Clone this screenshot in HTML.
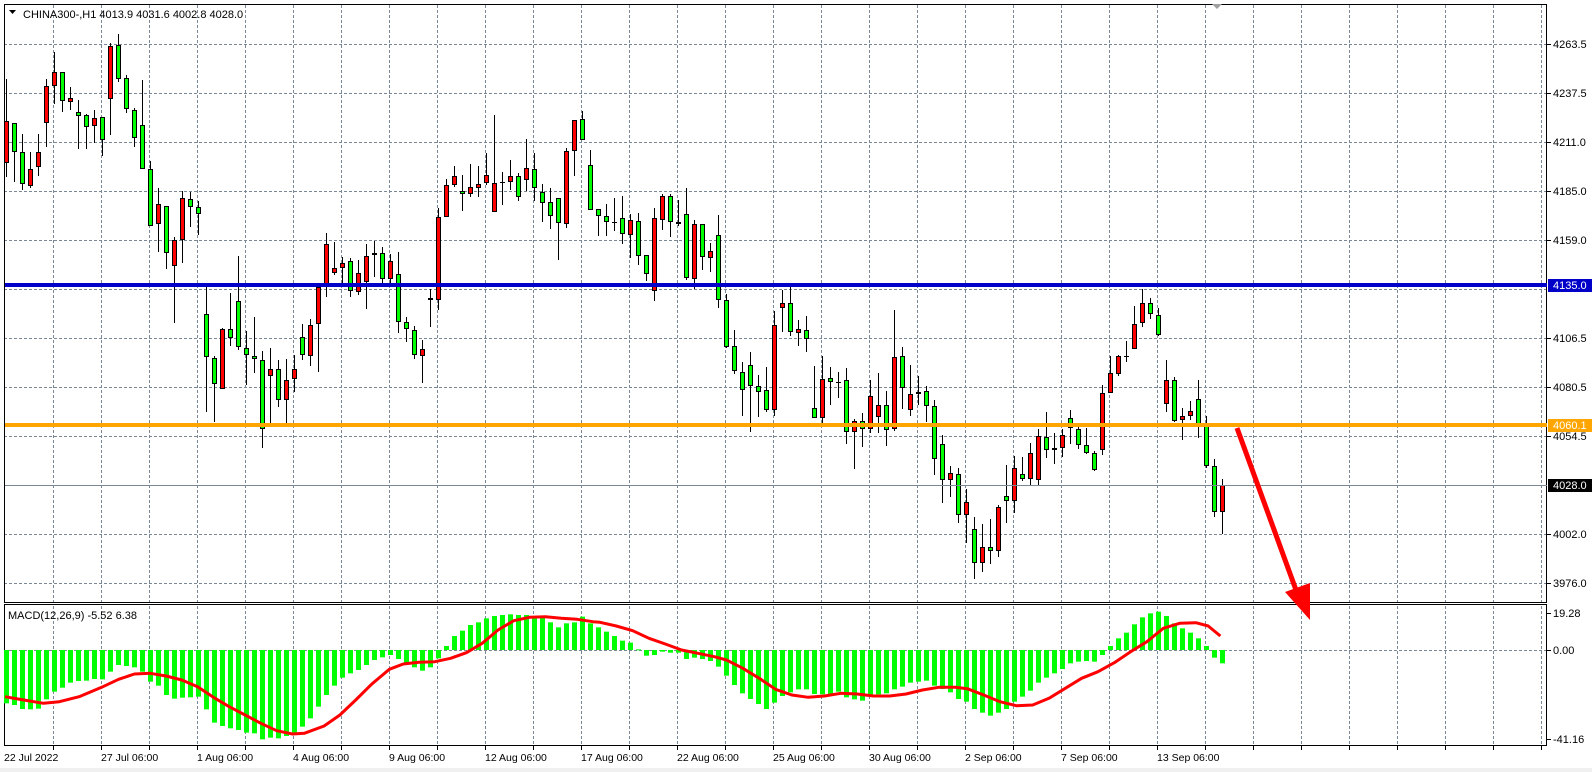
<!DOCTYPE html>
<html><head><meta charset="utf-8">
<style>
html,body{margin:0;padding:0;background:#fff;}
body{width:1592px;height:772px;overflow:hidden;position:relative;font-family:"Liberation Sans",sans-serif;}
svg{position:absolute;left:0;top:0;}
text{font-family:"Liberation Sans",sans-serif;font-size:11px;fill:#000;}
</style></head>
<body>
<svg id="s" width="1592" height="772" viewBox="0 0 1592 772" xmlns="http://www.w3.org/2000/svg">
<rect x="0" y="768" width="1592" height="4" fill="#f0f0f0"/>
<g id="grid"></g>
<g id="macd"></g>
<g id="candles"></g>
<g id="lines"></g>
<g id="axis"></g>
<text x="23" y="18">CHINA300-,H1  4013.9 4031.6 4002.8 4028.0</text>
<polygon points="9,10 16,10 12.5,14" fill="#000"/>
<polygon points="1212,4 1222,4 1217,9" fill="#a0a0a0"/>
<text x="8" y="619">MACD(12,26,9) -5.52 6.38</text>
</svg>
<script>
var NS="http://www.w3.org/2000/svg";
function el(p,t,a){var e=document.createElementNS(NS,t);for(var k in a)e.setAttribute(k,a[k]);document.getElementById(p).appendChild(e);return e;}
function tx(p,x,y,s,a){var e=el(p,'text',Object.assign({x:x,y:y},a||{}));e.textContent=s;return e;}
// grid
var gc="#7a8896";
[44,93,142,191,240,289,338,387,436,534,583].forEach(function(y){el('grid','line',{x1:4,x2:1547,y1:y+0.5,y2:y+0.5,stroke:gc,'stroke-dasharray':'3,2'});});
el('grid','line',{x1:4,x2:1547,y1:650.5,y2:650.5,stroke:gc,'stroke-dasharray':'3,2'});
for(var n=1;n<=32;n++){var x=Math.round(5.3+48*n)+0.5;
 el('grid','line',{x1:x,x2:x,y1:5,y2:602,stroke:gc,'stroke-dasharray':'3,2'});
 el('grid','line',{x1:x,x2:x,y1:606,y2:745,stroke:gc,'stroke-dasharray':'3,2'});
 el('grid','line',{x1:x,x2:x,y1:746,y2:750,stroke:'#000'});}
// frames
el('grid','rect',{x:4.5,y:4.5,width:1542,height:598,fill:'none',stroke:'#000'});
el('grid','rect',{x:4.5,y:604.5,width:1542,height:141,fill:'none',stroke:'#000'});
// MACD histogram
var HZ=[340,345,357,358,356,328,305,293,278,273,272,267,268,245,225,228,232,245,275,287,315,326,323,322,320,358,398,408,415,420,428,430,448,443,445,438,430,410,385,350,315,287,263,250,240,225,210,202,195,207,218,232,242,232,205,168,138,122,105,97,85,78,75,73,75,75,80,80,97,112,100,97,80,100,112,
125,138,152,158,178,197,195,185,188,188,207,203,207,213,230,257,285,310,327,342,357,338,318,307,298,298,312,313,313,305,322,328,332,318,313,310,298,290,278,275,272,287,297,307,327,335,357,368,377,368,357,335,320,302,278,263,250,237,220,215,213,215,195,168,145,128,103,82,70,65,78,100,115,128,145,168,203,220];
HZ.forEach(function(z,k){var cx=Math.round(5.7+8*k);var y=590+z/3;var t=Math.min(y,650),b=Math.max(y,650);if(b-t<1)b=t+1;
 el('macd','rect',{x:cx-2,y:t,width:5,height:b-t,fill:'#00ff00'});});
// signal line
var s1=[[10,320],[60,330],[110,340],[150,335],[200,320],[257,292],[300,268],[340,252],[380,250],[420,258],[460,270],[500,290],[540,322],[580,350],[620,375],[660,400],[700,422],[740,432],[770,430],[820,408],[860,375],[900,330],[940,283],[985,238],[1020,222],[1060,217],[1100,215],[1140,205],[1180,188],[1220,160],[1260,120],[1300,92],[1340,82],[1380,80],[1420,85],[1460,88],[1500,95]];
var s2=[[0,97],[40,108],[80,122],[120,145],[160,162],[200,180],[240,190],[280,200],[310,210],[350,235],[390,265],[430,298],[470,315],[510,322],[550,318],[590,310],[630,312],[670,318],[710,318],[750,312],[790,300],[830,292],[870,292],[900,296],[940,315],[980,335],[1020,347],[1060,345],[1100,325],[1140,295],[1180,265],[1220,245],[1260,218],[1300,185],[1340,155],[1380,115],[1420,100],[1460,98],[1490,108],[1520,138]];
var pts=[];s1.forEach(function(p){pts.push([p[0]/2.53,590+p[1]/3]);});
s2.forEach(function(p){pts.push([600+p[0]/2.45,590+p[1]/3]);});
pts[0][0]=5;
el('macd','polyline',{points:pts.map(function(p){return p[0].toFixed(1)+','+p[1].toFixed(1);}).join(' '),fill:'none',stroke:'#ff0000','stroke-width':3,'stroke-linejoin':'round'});
// candles [bodyTop, bodyBottom, wickTop, wickBottom, color]
var C=[[121,163,79,177,'r'],[123,152,123,182,'g'],[152,184,134,190,'g'],[169,186,152,188,'r'],[152,167,134,176,'r'],[86,123,79,147,'r'],[72,86,52,104,'r'],[72,101,72,112,'g'],[98,102,87,110,'r'],[112,116,100,149,'g'],
[115,127,114,149,'g'],[118,126,110,143,'r'],[117,140,117,156,'g'],[46,99,43,135,'r'],[45,79,34,82,'g'],[78,109,75,113,'g'],[110,138,108,147,'g'],[125,169,80,169,'g'],[169,226,161,226,'g'],[204,224,188,252,'r'],
[206,253,206,269,'g'],[240,266,237,323,'r'],[198,240,191,263,'r'],[199,207,192,227,'g'],[207,214,201,235,'g'],[314,357,287,412,'g'],[358,384,356,422,'g'],[329,389,328,389,'r'],[329,338,293,346,'g'],[301,347,256,350,'g'],
[348,355,331,385,'g'],[356,359,317,373,'g'],[360,429,351,448,'g'],[369,376,348,423,'r'],[369,400,360,407,'g'],[380,400,359,423,'r'],[369,379,355,392,'r'],[337,355,324,360,'g'],[325,356,319,366,'r'],[287,324,285,372,'r'],
[244,287,233,297,'r'],[268,273,242,275,'r'],[263,268,257,283,'r'],[261,291,258,297,'g'],[273,292,260,295,'r'],[256,282,244,309,'r'],[253,255,241,277,'r'],[253,279,247,283,'g'],[261,279,254,283,'r'],[274,322,252,333,'g'],
[322,329,317,342,'g'],[330,355,326,359,'g'],[349,356,340,383,'r'],[298,300,289,327,'g'],[217,300,208,310,'r'],[185,217,179,217,'r'],[176,185,166,187,'r'],[191,194,175,211,'g'],[187,194,164,197,'r'],[184,188,166,197,'r'],
[175,183,153,185,'r'],[183,212,115,212,'r'],[182,183,172,205,'r'],[176,182,160,190,'r'],[176,197,173,201,'g'],[168,180,139,191,'r'],[169,188,153,201,'g'],[192,203,184,222,'g'],[202,216,188,229,'g'],[198,223,198,260,'g'],
[151,224,148,228,'r'],[120,151,120,176,'r'],[119,140,111,140,'g'],[165,210,150,210,'g'],[209,216,209,236,'g'],[216,222,204,236,'g'],[222,222,198,231,'g'],[218,234,196,244,'g'],[220,235,214,258,'r'],[221,256,213,265,'g'],
[255,274,255,281,'g'],[218,291,208,301,'r'],[196,220,194,230,'r'],[196,222,194,237,'g'],[222,224,200,226,'g'],[214,278,188,280,'g'],[224,279,220,289,'r'],[224,257,224,270,'g'],[251,258,243,272,'r'],[235,300,215,308,'g'],
[300,347,294,348,'g'],[346,371,330,374,'g'],[372,390,362,416,'g'],[365,386,352,432,'g'],[386,392,375,417,'g'],[390,410,367,412,'g'],[325,410,311,416,'r'],[303,308,290,332,'r'],[303,332,287,336,'g'],[329,333,320,346,'r'],
[330,339,316,352,'g'],[408,418,366,418,'g'],[379,418,356,427,'r'],[378,382,367,405,'g'],[382,382,372,398,'g'],[380,432,368,444,'g'],[421,432,419,469,'r'],[421,429,413,447,'g'],[396,429,380,433,'r'],[405,417,373,433,'r'],
[405,430,391,446,'g'],[357,429,310,431,'r'],[356,388,347,409,'g'],[394,410,365,416,'r'],[392,394,376,405,'r'],[391,406,386,422,'g'],[406,459,400,475,'g'],[444,480,435,503,'g'],[473,480,466,497,'r'],[474,515,468,523,'g'],
[502,515,489,543,'r'],[529,563,517,579,'g'],[547,563,524,572,'r'],[547,551,519,564,'g'],[507,551,505,557,'r'],[496,501,465,523,'g'],[468,501,456,513,'r'],[474,479,457,481,'g'],[453,479,443,486,'r'],[436,480,429,485,'r'],
[437,450,412,458,'g'],[448,450,433,464,'r'],[435,448,429,457,'r'],[418,428,410,444,'g'],[429,445,427,449,'g'],[445,453,428,454,'g'],[453,470,451,471,'g'],[393,450,385,455,'r'],[373,393,356,393,'r'],[356,374,355,376,'r'],
[356,356,341,362,'g'],[324,349,306,349,'r'],[303,323,289,327,'r'],[303,314,298,319,'g'],[315,335,308,336,'g'],[380,404,360,412,'r'],[380,421,377,422,'g'],[416,420,408,440,'r'],[411,416,401,420,'r'],[399,425,380,438,'g'],
[425,466,416,468,'g'],[466,512,459,517,'g'],[485,512,479,534,'r']];
C.forEach(function(c,k){var cx=Math.round(5.7+8*k);
 el('candles','line',{x1:cx+0.5,x2:cx+0.5,y1:c[2],y2:c[3],stroke:'#000'});
 if(c[1]-c[0]<2){el('candles','line',{x1:cx-2,x2:cx+3,y1:c[0]+0.5,y2:c[0]+0.5,stroke:'#000'});}
 else el('candles','rect',{x:cx-1.5,y:c[0]+0.5,width:4,height:c[1]-c[0]-1,fill:c[4]=='r'?'#ff0000':'#00ff00',stroke:'#000'});
});
// horizontal lines
el('lines','line',{x1:5,x2:1547,y1:485.5,y2:485.5,stroke:'#7a8896'});
el('lines','rect',{x:5,y:283,width:1542,height:4,fill:'#0000c8'});
el('lines','rect',{x:5,y:423,width:1542,height:4,fill:'#ffa500'});
// arrow
el('lines','line',{x1:1237,y1:428,x2:1296,y2:590,stroke:'#ff0000','stroke-width':5});
el('lines','polygon',{points:'1285,592 1310,583 1310,620',fill:'#ff0000'});
// right axis
var L=[[44,'4263.5'],[93,'4237.5'],[142,'4211.0'],[191,'4185.0'],[240,'4159.0'],[338,'4106.5'],[387,'4080.5'],[436,'4054.5'],[534,'4002.0'],[583,'3976.0']];
L.forEach(function(l){el('axis','line',{x1:1547,x2:1551,y1:l[0]+0.5,y2:l[0]+0.5,stroke:'#000'});tx('axis',1553,l[0]+4,l[1]);});
[[613,'19.28'],[650,'0.00'],[739,'-41.16']].forEach(function(l){el('axis','line',{x1:1547,x2:1551,y1:l[0]+0.5,y2:l[0]+0.5,stroke:'#000'});tx('axis',1553,l[0]+4,l[1]);});
function box(y,col,s){el('axis','rect',{x:1548,y:y-6,width:44,height:13,fill:col});tx('axis',1553,y+4,s,{style:'fill:#fff'});}
box(285,'#0000c8','4135.0');box(425,'#ffa500','4060.1');box(485,'#000','4028.0');
// dates
var D=['22 Jul 2022','27 Jul 06:00','1 Aug 06:00','4 Aug 06:00','9 Aug 06:00','12 Aug 06:00','17 Aug 06:00','22 Aug 06:00','25 Aug 06:00','30 Aug 06:00','2 Sep 06:00','7 Sep 06:00','13 Sep 06:00'];
D.forEach(function(d,i){var x=i==0?4:Math.round(5.3+96*i);tx('axis',x,761,d,{style:'font-size:10.5px'});});
</script>
</body></html>
